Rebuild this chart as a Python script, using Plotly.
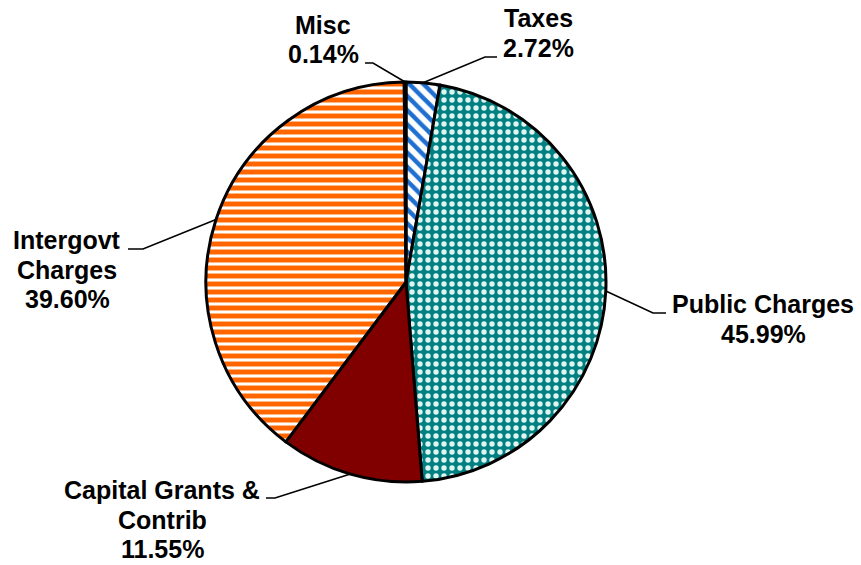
import math
import plotly.graph_objects as go

# Revenue shares, clockwise from 12 o'clock
categories = ["Taxes", "Public Charges", "Capital Grants &<br>Contrib", "Intergovt<br>Charges", "Misc"]
shares = [2.72, 45.99, 11.55, 39.60, 0.14]

W, H = 861, 565
CX, CY, R = 406, 282, 200          # pie centre and radius in pixels

# label block: centre x, first-line y (pixels); leader elbow & end points
label_pos = {
    "Taxes":          dict(x=538, y=18,  elbow=(485, 57),  end=(497, 57)),
    "Public Charges": dict(x=763, y=304, elbow=(653, 313), end=(666, 313)),
    "Capital Grants &<br>Contrib": dict(x=162, y=490, elbow=(275, 498), end=(266, 498)),
    "Intergovt<br>Charges": dict(x=67, y=240, elbow=(143, 249), end=(128, 249)),
    "Misc":           dict(x=323, y=25,  elbow=(373, 63),  end=(365, 63)),
}
LINE_STEP = 29.5

fills = [
    dict(color="white", pattern=dict(shape="\\", fgcolor="#1f6fd1", bgcolor="white", size=10, solidity=0.45)),
    dict(color="#008080", pattern=dict(shape=".", fgcolor="#e0f4f2", bgcolor="#008080", size=8, solidity=0.35)),
    dict(color="#800000", pattern=dict(shape="")),
    dict(color="white", pattern=dict(shape="-", fgcolor="#ff6600", bgcolor="white", size=8, solidity=0.62)),
    dict(color="white", pattern=dict(shape="")),
]


def px(x, y):
    return x / W, 1 - y / H


fig = go.Figure()
fig.add_trace(go.Pie(
    labels=categories,
    values=shares,
    sort=False,
    direction="clockwise",
    rotation=0,
    textinfo="none",
    hoverinfo="skip",
    showlegend=False,
    marker=dict(
        colors=[f["color"] for f in fills],
        pattern=dict(
            shape=[f["pattern"].get("shape", "") for f in fills],
            fgcolor=[f["pattern"].get("fgcolor", "black") for f in fills],
            bgcolor=[f["pattern"].get("bgcolor", f["color"]) for f in fills],
            size=[f["pattern"].get("size", 8) for f in fills],
            solidity=[f["pattern"].get("solidity", 0.3) for f in fills],
            fillmode="replace",
        ),
        line=dict(color="black", width=3),
    ),
    domain=dict(x=[(CX - R) / W, (CX + R) / W], y=[1 - (CY + R) / H, 1 - (CY - R) / H]),
))

shapes = []
annotations = []
total = sum(shares)
cum = 0.0
for cat, val in zip(categories, shares):
    mid = (cum + val / 2) / total * 2 * math.pi
    cum += val
    ex, ey = CX + R * math.sin(mid), CY - R * math.cos(mid)
    lp = label_pos[cat]
    pts = [(ex, ey), lp["elbow"], lp["end"]]
    path = "M " + " L ".join(f"{px(x, y)[0]},{px(x, y)[1]}" for x, y in pts)
    shapes.append(dict(type="path", path=path, xref="paper", yref="paper",
                       line=dict(color="black", width=1.6)))
    lines = cat.split("<br>") + [f"{val:.2f}%"]
    for i, t in enumerate(lines):
        ax, ay = px(lp["x"], lp["y"] + i * LINE_STEP)
        annotations.append(dict(text=f"<b>{t}</b>", x=ax, y=ay, xref="paper", yref="paper",
                                xanchor="center", yanchor="middle", showarrow=False,
                                font=dict(family="Liberation Sans, Arial", size=25, color="black")))

fig.update_layout(
    width=W, height=H,
    margin=dict(l=0, r=0, t=0, b=0),
    paper_bgcolor="white", plot_bgcolor="white",
    shapes=shapes, annotations=annotations,
)

fig.write_html("out.html")
